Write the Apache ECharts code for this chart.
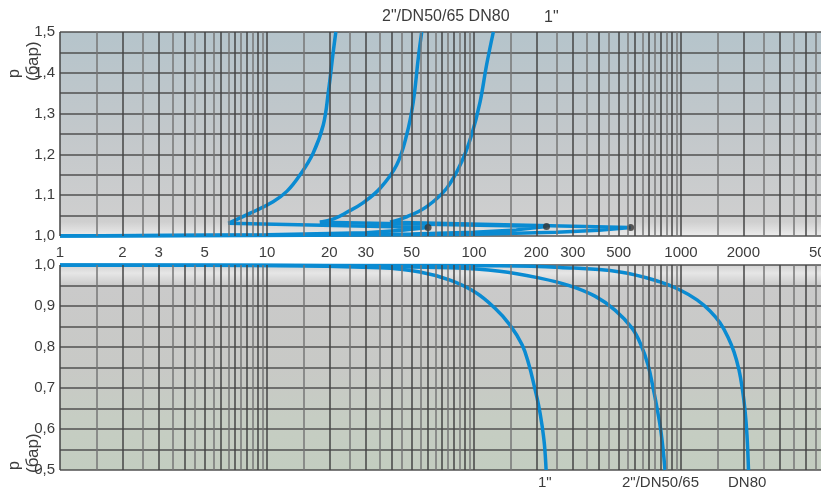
<!DOCTYPE html>
<html><head><meta charset="utf-8">
<script src="https://cdn.jsdelivr.net/npm/echarts@6/dist/echarts.min.js"></script>
<style>html,body{margin:0;padding:0;background:#fff}#c{width:821px;height:489px}</style>
</head><body><div id="c"></div>
<script>
// ---- data ----
const xTickLabels = [1,2,3,5,10,20,30,50,100,200,300,500,1000,2000,5000];
const decades = [1,10,100,1000];
const gridMantissaMajor = [1,2,3,4,5,6,7,8,9];
const gridMantissaHalf = [1.5,2.5,3.5,4.5,5.5,6.5,7.5,8.5,9.5];

// top panel: base line to dot, return to start, then rising curve
const top1Base = [[1,1.0],[10,1.003],[30,1.008],[45,1.014],[60,1.021],[6.5,1.031]];
const top1Rise = [[6.5,1.031],[8.3,1.056],[10.7,1.084],[12.5,1.11],[14.4,1.149],[16.7,1.203],[18.7,1.272],[19.8,1.354],[20.9,1.452],[21.5,1.5]];
const top2Base = [[1,1.0],[10,1.002],[50,1.005],[100,1.009],[160,1.015],[224,1.023],[18,1.034]];
const top2Rise = [[18,1.034],[21,1.042],[24.3,1.058],[29.2,1.082],[35.2,1.117],[42.3,1.174],[47.3,1.248],[50.9,1.329],[53.8,1.436],[55.9,1.5]];
const top3Base = [[1,1.0],[10,1.001],[100,1.004],[250,1.009],[400,1.014],[571,1.021],[39.3,1.034]];
const top3Rise = [[39.3,1.034],[47.3,1.047],[59.1,1.072],[73.8,1.117],[87.2,1.182],[97.4,1.248],[107,1.329],[115,1.419],[124,1.5]];
const dotsX = [60,224,571];
const dotsY = [1.021,1.023,1.021];

// bottom panel
const bot1 = [[1,1.0],[10,0.999],[35.1,0.993],[54.8,0.983],[76.6,0.963],[101,0.934],[126,0.895],[149,0.854],[171,0.805],[184.4,0.756],[195,0.707],[205,0.659],[213,0.61],[219,0.561],[223,0.5]];
const bot2 = [[1,1.0],[14.4,0.999],[76.6,0.993],[133,0.985],[208,0.968],[291,0.949],[384,0.924],[480,0.89],[580,0.846],[641,0.805],[693,0.756],[732,0.702],[766,0.651],[796,0.602],[819,0.551],[837,0.5]];
const bot3 = [[1,1.0],[30,0.999],[133,0.998],[260,0.994],[507,0.983],[792,0.959],[989,0.939],[1195,0.915],[1381,0.888],[1543,0.859],[1687,0.824],[1803,0.788],[1906,0.744],[1982,0.695],[2038,0.646],[2083,0.585],[2119,0.5]];

const topLabelText = ['2"/DN50/65 DN80', '1"'];
const bottomLabelText = ['1"', '2"/DN50/65', 'DN80'];
const axisNameText = ['p', '(бар)'];

// ---- build ----
const FONT = '"Liberation Sans", Arial, sans-serif';
const TXT = '#3c3c3c';
const BLUE = '#0a8bd2';
function vals(mants){ const out=[]; decades.forEach(d=>mants.forEach(m=>out.push(+(d*m).toPrecision(6)))); return out; }
const majorV = vals(gridMantissaMajor), halfV = vals(gridMantissaHalf);
function vLines(idx, values, color){
  return {type:'line', xAxisIndex:idx, yAxisIndex:idx, data:[], z:1, silent:true,
    markLine:{silent:true, symbol:['none','none'], label:{show:false}, animation:false,
      lineStyle:{color:color, width:1.5, type:'solid'}, emphasis:{disabled:true},
      data: values.map(v=>({xAxis:v}))}};
}
function curve(idx, data, smooth){
  return {type:'line', xAxisIndex:idx, yAxisIndex:idx, data:data, showSymbol:false, symbol:'none',
    smooth:smooth, smoothConstraint:false, z:3, lineStyle:{color:BLUE, width:3.5}, animation:false};
}
const fmt = v => { const r=Math.round(v*100); return r%10===0 ? (r/100).toFixed(1).replace('.',',') : ''; };
const xAxisBase = {type:'log', logBase:10, min:1, max:10000, splitLine:{show:false}, axisTick:{show:false},
  axisLine:{show:false}};
const yAxisBase = {type:'value', interval:0.05, axisTick:{show:false}, axisLine:{show:false},
  splitLine:{show:true, lineStyle:{color:'#505050', width:1.5}},
  axisLabel:{formatter:fmt, color:TXT, fontSize:15, fontFamily:FONT, margin:5}};

const chart = echarts.init(document.getElementById('c'), null, {renderer:'canvas'});
chart.setOption({
  animation:false,
  backgroundColor:'#ffffff',
  grid:[
    {left:60, top:32, width:828, height:204, show:true, borderWidth:0, outerBoundsMode:'none', containLabel:false,
     backgroundColor:{type:'linear',x:0,y:0,x2:0,y2:1,colorStops:[
       {offset:0,color:'#b5c4cb'},{offset:0.5,color:'#c3c8cb'},{offset:0.93,color:'#cfcfcf'},{offset:1,color:'#ececec'}]}},
    {left:60, top:265, width:828, height:205, show:true, borderWidth:0, outerBoundsMode:'none', containLabel:false,
     backgroundColor:{type:'linear',x:0,y:0,x2:0,y2:1,colorStops:[
       {offset:0,color:'#d2d2d2'},{offset:0.04,color:'#e6e6e6'},{offset:0.1,color:'#cacaca'},
       {offset:0.5,color:'#c8c9c6'},{offset:0.75,color:'#c6cdc3'},{offset:1,color:'#c3cdc0'}]}}
  ],
  xAxis:[
    Object.assign({}, xAxisBase, {gridIndex:0, position:'bottom',
      axisLabel:{show:true, customValues:xTickLabels, formatter: v => String(v), color:TXT, fontSize:15, fontFamily:FONT, margin:9,
        showMinLabel:true, showMaxLabel:true, hideOverlap:false}}),
    Object.assign({}, xAxisBase, {gridIndex:1, axisLabel:{show:false}})
  ],
  yAxis:[
    Object.assign({}, yAxisBase, {gridIndex:0, min:1.0, max:1.5}),
    Object.assign({}, yAxisBase, {gridIndex:1, min:0.5, max:1.0})
  ],
  series:[
    vLines(0, halfV, '#767676'), vLines(0, majorV, '#454545'),
    vLines(1, halfV, '#767676'), vLines(1, majorV, '#454545'),
    curve(0, top1Base, false), curve(0, top1Rise, 0.4),
    curve(0, top2Base, false), curve(0, top2Rise, 0.4),
    curve(0, top3Base, false), curve(0, top3Rise, 0.4),
    {type:'scatter', xAxisIndex:0, yAxisIndex:0, z:4, symbol:'circle', symbolSize:7,
     itemStyle:{color:'#333333'}, data: dotsX.map((x,i)=>[x,dotsY[i]]), animation:false},
    curve(1, bot1, 0.4), curve(1, bot2, 0.4), curve(1, bot3, 0.4)
  ],
  graphic:[
    {type:'text', left:382, top:9, style:{text:topLabelText[0], fill:TXT, font:'16px '+FONT}},
    {type:'text', left:544, top:10, style:{text:topLabelText[1], fill:TXT, font:'16px '+FONT}},
    {type:'text', left:538, top:475, style:{text:bottomLabelText[0], fill:TXT, font:'15px '+FONT}},
    {type:'text', left:622, top:475, style:{text:bottomLabelText[1], fill:TXT, font:'15px '+FONT}},
    {type:'text', left:728, top:475, style:{text:bottomLabelText[2], fill:TXT, font:'15px '+FONT}},
    {type:'text', x:7, y:78, rotation:Math.PI/2, style:{text:axisNameText[0], fill:TXT, font:'16px '+FONT}},
    {type:'text', x:25, y:81, rotation:Math.PI/2, style:{text:axisNameText[1], fill:TXT, font:'17px '+FONT}},
    {type:'text', x:7, y:470, rotation:Math.PI/2, style:{text:axisNameText[0], fill:TXT, font:'16px '+FONT}},
    {type:'text', x:25, y:473, rotation:Math.PI/2, style:{text:axisNameText[1], fill:TXT, font:'17px '+FONT}}
  ]
});
</script></body></html>
